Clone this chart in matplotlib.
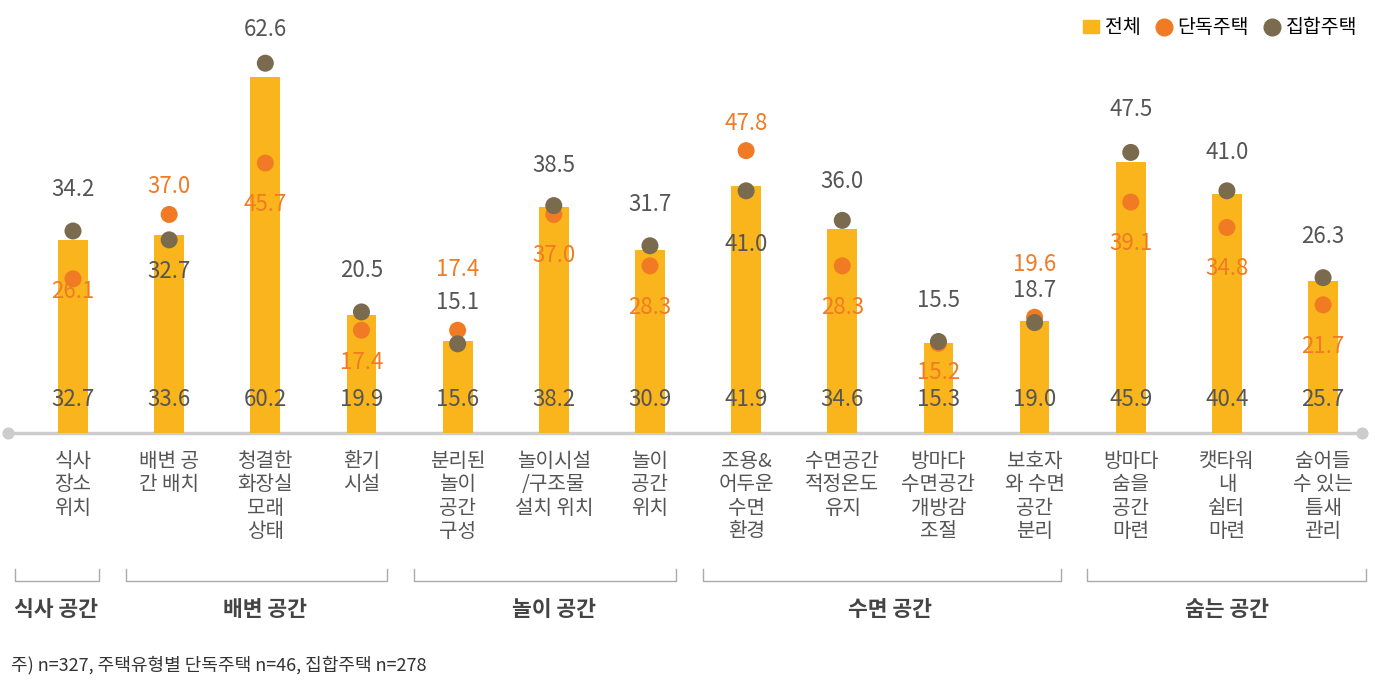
import matplotlib
matplotlib.use("Agg")
import matplotlib.pyplot as plt
from matplotlib.lines import Line2D
from matplotlib.patches import Patch
from matplotlib import font_manager as fm

names = {f.name for f in fm.fontManager.ttflist}
fams = [n for n in ["Noto Sans CJK KR", "Noto Sans CJK JP", "Noto Sans CJK SC", "Noto Sans CJK TC"] if n in names]
plt.rcParams["font.family"] = fams + ["DejaVu Sans"]

categories = ["식사\n장소\n위치", "배변 공\n간 배치", "청결한\n화장실\n모래\n상태", "환기\n시설",
              "분리된\n놀이\n공간\n구성", "놀이시설\n/구조물\n설치 위치", "놀이\n공간\n위치",
              "조용&\n어두운\n수면\n환경", "수면공간\n적정온도\n유지", "방마다\n수면공간\n개방감\n조절",
              "보호자\n와 수면\n공간\n분리", "방마다\n숨을\n공간\n마련", "캣타워\n내\n쉼터\n마련",
              "숨어들\n수 있는\n틈새\n관리"]
total = [32.7, 33.6, 60.2, 19.9, 15.6, 38.2, 30.9, 41.9, 34.6, 15.3, 19.0, 45.9, 40.4, 25.7]
detached = [26.1, 37.0, 45.7, 17.4, 17.4, 37.0, 28.3, 47.8, 28.3, 15.2, 19.6, 39.1, 34.8, 21.7]
apartment = [34.2, 32.7, 62.6, 20.5, 15.1, 38.5, 31.7, 41.0, 36.0, 15.5, 18.7, 47.5, 41.0, 26.3]
groups = ["식사 공간", "배변 공간", "놀이 공간", "수면 공간", "숨는 공간"]
group_spans = [(0, 0), (1, 3), (4, 6), (7, 10), (11, 13)]

det_off = [-2.2, 4.7, -7.0, -5.4, 10.3, -7.0, -7.0, 4.6, -7.0, -5.0, 9.0, -7.0, -7.0, -7.0]
apt_off = [7.0, -5.4, 5.7, 7.0, 7.0, 6.8, 7.0, -9.1, 6.6, 7.0, 5.5, 7.2, 6.5, 7.0]

BAR = "#F9B51B"; ORG = "#F07B24"; BRN = "#7A6A4E"; GRY = "#555555"

fig = plt.figure(figsize=(13.75, 6.93), dpi=100)
ax = fig.add_axes([0, 0, 1, 1])
ax.set_xlim(-0.759, 13.54)
ax.set_ylim(-44.0, 73.3)
ax.axis("off")
x = list(range(len(categories)))
ax.bar(x, total, width=0.31, color=BAR, zorder=2)
ax.scatter(x, detached, s=150, color=ORG, zorder=3, edgecolor="none")
ax.scatter(x, apartment, s=150, color=BRN, zorder=4, edgecolor="none")
for i in x:
    ax.text(i, 5.6, f"{total[i]:.1f}", ha="center", va="center", fontsize=16, color=GRY, zorder=5)
    ax.text(i, detached[i] + det_off[i], f"{detached[i]:.1f}", ha="center", va="center", fontsize=16, color=ORG, zorder=5)
    ax.text(i, apartment[i] + apt_off[i], f"{apartment[i]:.1f}", ha="center", va="center", fontsize=16, color=GRY, zorder=5)
    ax.text(i, -3.0, categories[i], ha="center", va="top", fontsize=14.5, color=GRY, linespacing=1.15)
ax.plot([-0.68, 13.4], [0, 0], color="#CCCCCC", lw=2.5, zorder=1)
ax.scatter([-0.68, 13.4], [0, 0], s=60, color="#CCCCCC", zorder=1)
for g, (a, b) in zip(groups, group_spans):
    l = -0.6 if a == 0 else a - 0.45
    r = 13.45 if b == 13 else b + 0.27
    ax.plot([l, l, r, r], [-23.0, -25.0, -25.0, -23.0], color="#AAAAAA", lw=1)
    cx = -0.18 if a == 0 else (a + b) / 2
    ax.text(cx, -29.8, g, ha="center", va="center", fontsize=15.5, color="#444444", fontweight="bold")
ax.text(-0.64, -39.3, "주) n=327, 주택유형별 단독주택 n=46, 집합주택 n=278", ha="left", va="center", fontsize=13, color="#333333")

handles = [Patch(color=BAR, label="전체"),
           Line2D([], [], marker="o", ls="", color=ORG, markersize=12, label="단독주택"),
           Line2D([], [], marker="o", ls="", color=BRN, markersize=12, label="집합주택")]
fig.legend(handles=handles, loc="upper right", bbox_to_anchor=(1.0, 1.0), ncol=3, frameon=False,
           fontsize=14, handlelength=0.8, handletextpad=0.3, columnspacing=0.8)
fig.savefig("out.png", dpi=100)
